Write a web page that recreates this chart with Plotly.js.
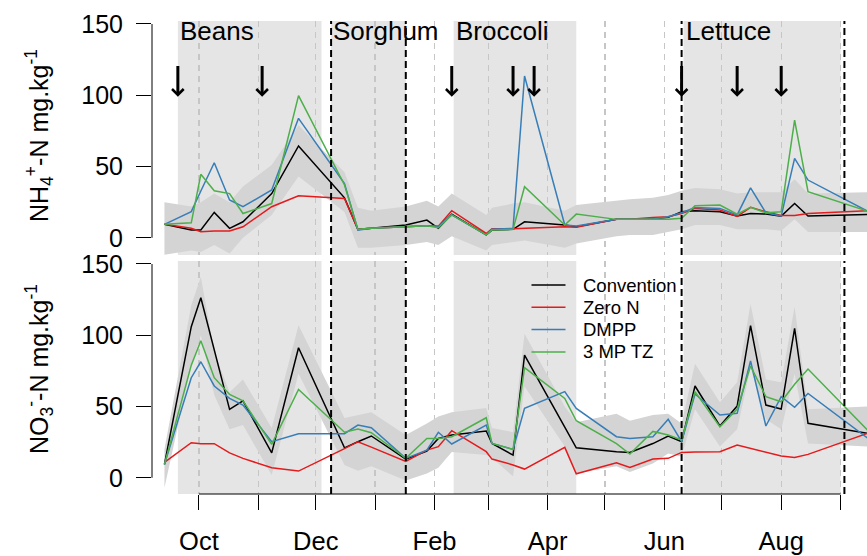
<!DOCTYPE html>
<html><head><meta charset="utf-8">
<script src="https://cdn.plot.ly/plotly-3.0.1.min.js"></script>
<style>html,body{margin:0;padding:0;background:#fff}#chart{width:867px;height:556px}</style>
</head><body><div id="chart"></div>
<script>
// Sampling dates
const dates = ['2014-09-13','2014-09-27','2014-10-02','2014-10-09','2014-10-17','2014-10-24','2014-11-08','2014-11-22',
  '2014-12-16','2014-12-23','2014-12-30','2015-01-17','2015-01-28','2015-02-03','2015-02-10','2015-02-28','2015-03-03',
  '2015-03-14','2015-03-20','2015-04-10','2015-04-16','2015-05-07','2015-05-14','2015-05-26','2015-06-03','2015-06-10',
  '2015-06-17','2015-06-30','2015-07-09','2015-07-16','2015-07-24','2015-08-01','2015-08-08','2015-08-15','2015-09-15'];

// NH4+-N (top panel)
const nh4Convention = [9.4,5.4,5.4,17.8,6.6,11.2,31,64.4,28,5.9,6.6,9,12.4,6.6,16.5,2,5.4,5.9,11.2,8.9,7.7,12.9,12.9,13.1,14.3,18.3,19,18.3,15.2,17,16.6,15.2,24,15.2,16.4];
const nh4ZeroN      = [9.4,6.6,4.2,4.7,4.7,7.7,21.8,29.5,27.6,5.9,6.6,8,8.4,8,19,3,6.3,6.3,6.6,7.7,7.3,12.9,12.9,14.3,14.7,17,20.6,19.4,15,21.3,18.3,15.7,15.7,17,19];
const nh4DMPP       = [9.4,18.3,32.8,52.6,26.5,21.8,33.5,83.8,38,5.4,6.6,8,8.4,8,16,2,5.9,6.6,113.5,8.9,8.2,12.9,12.9,13.1,14.7,17.5,21.3,20.6,16,35,17.5,15.2,55.7,40.5,18.7];
const nh4MPTZ       = [9.4,10.5,44.5,33,31,17,24,99.7,37,5.9,6.6,8,8.4,7,16,2,5.4,5.9,35.8,8.9,16.6,12.9,12.9,12.4,12.9,13.6,22.5,23,16.6,21.3,17.5,18.3,82.6,32.3,18.7];
const nh4Upper      = [25,22,25,31,25,36,51,79,46,21,19,22,26,22,31,16,21,24,25,19,23,26,27,28,30,33,35,34,31,32,32,32,41,31,32];
const nh4Lower      = [-12,-9,-10,-5,-11,0,16,43,18,-7,-7,-5,-3,-5,1,-9,-5,-3,-2,-7,-4,1,2,2,4,6,9,9,6,6,6,5,13,4,4];

// NO3--N (bottom panel)
const no3Convention = [9.4,106,126.3,90,48,54,17.5,91.2,21,25.3,29.3,13.1,18.7,27.6,30,32.8,24.1,15.9,86.1,35.5,21,18.3,17.8,24,29.3,25.3,64.4,36.3,50.3,106.7,51,48.2,104.9,38.2,31.2];
const no3ZeroN      = [10.8,24.6,23.9,23.9,17.5,13.6,7,4.7,20.4,25.3,21.5,11.5,19.4,21.8,33,18.3,13.1,9,6.1,21.3,2.8,10.5,7.3,13.1,13.6,17.8,18,18.3,23,20.6,18.3,15.2,14.3,16.4,31.2];
const no3DMPP       = [9.4,70.2,81.4,64.4,55.7,51,25.3,30.9,30.9,37,35.1,13.6,19.4,31.9,23.7,37,24.1,19.9,48.7,60.4,48.7,28.8,27.6,28.8,41,25.3,58.8,44,45.2,81.9,36.3,56.9,49.4,59.2,27.9];
const no3MPTZ       = [9.4,79,96.2,70.2,58.5,54,23.4,62,31.9,34.2,31.6,13.6,27.6,27.6,28.8,42.1,24.1,19.9,77.2,55.7,40,24,16.6,32.5,30,26.5,60.4,35.8,48.2,78.4,56.9,53.3,65.6,76.3,33.5];
const no3Upper      = [20,121,141,88,60,69,35,107,42,44,46,30,38,43,46,49,35,32,101,50,39,45,40,44,45,38,80,53,67,122,69,67,120,48,50];
const no3Lower      = [-7,79,100,58,34,37,2,73,9,5,8,-2,3,7,18,16,14,1,64,22,3,8,4,10,17,15,48,22,34,77,41,34,73,24,22];

// Treatments
const seriesNames = ['Convention','Zero N','DMPP','3 MP TZ'];
const seriesColors = ['#000000','#e41a1c','#377eb8','#4daf4a'];

// Crop periods, fertilisation dates, crop boundaries
const crops      = ['Beans','Sorghum','Broccoli','Lettuce'];
const cropStart  = ['2014-09-20','2014-12-09','2015-02-11','2015-06-11'];
const cropEnd    = ['2014-12-04','2015-01-17','2015-04-16','2015-09-01'];
const cropLabelX = ['2014-09-20','2014-12-09','2015-02-11','2015-06-11'];
const boundaries = ['2014-12-09','2015-01-17','2015-06-10','2015-09-03'];
const fertDates  = ['2014-09-20','2014-11-03','2015-02-10','2015-03-14','2015-03-25','2015-06-10','2015-07-09','2015-08-01'];

// Axis ticks
const labeledMonths   = ['2014-10-01','2014-12-01','2015-02-01','2015-04-01','2015-06-01','2015-08-01'];
const monthLabels     = ['Oct','Dec','Feb','Apr','Jun','Aug'];
const unlabeledMonths = ['2014-11-01','2015-01-01','2015-03-01','2015-05-01','2015-07-01','2015-09-01'];
const yTicks = [0,50,100,150];
const yTitles = ['NH<sub>4</sub><sup>+</sup>-N mg.kg<sup>-1</sup>', 'NO<sub>3</sub><sup>-</sup>-N mg.kg<sup>-1</sup>'];

const FONT = '"Liberation Sans", Arial, sans-serif';
const W = 867, H = 556, ML = 152, MR = 0, MT = 21, MB = 62;
const px2paperX = px => (px - ML) / (W - ML - MR);
const px2paperY = py => (H - MB - py) / (H - MT - MB);

const traces = [];
function addPanel(lower, upper, vals, yaxis) {
  traces.push({x: dates, y: lower, yaxis: yaxis, type: 'scatter', mode: 'lines', line: {width: 0, color: 'rgba(0,0,0,0)'}, showlegend: false, hoverinfo: 'skip'});
  traces.push({x: dates, y: upper, yaxis: yaxis, type: 'scatter', mode: 'lines', line: {width: 0, color: 'rgba(0,0,0,0)'}, fill: 'tonexty', fillcolor: '#d4d4d4', showlegend: false, hoverinfo: 'skip'});
  vals.forEach((v, i) => traces.push({x: dates, y: v, yaxis: yaxis, type: 'scatter', mode: 'lines', name: seriesNames[i],
    line: {color: seriesColors[i], width: 1.5}, showlegend: false}));
}
addPanel(nh4Lower, nh4Upper, [nh4Convention, nh4ZeroN, nh4DMPP, nh4MPTZ], 'y');
addPanel(no3Lower, no3Upper, [no3Convention, no3ZeroN, no3DMPP, no3MPTZ], 'y2');

const shapes = [];
['y', 'y2'].forEach(ya => {
  cropStart.forEach((s, i) => shapes.push({type: 'rect', xref: 'x', yref: ya + ' domain', x0: s, x1: cropEnd[i], y0: 0, y1: 1,
    fillcolor: '#e5e5e5', line: {width: 0}, layer: 'below'}));
  boundaries.forEach(d => shapes.push({type: 'line', xref: 'x', yref: ya + ' domain', x0: d, x1: d, y0: 0, y1: 1,
    line: {color: '#000', width: 2, dash: '7px,4px'}, layer: 'above'}));
  shapes.push({type: 'line', xref: 'paper', yref: ya, x0: 0, x1: 0, y0: yTicks[0], y1: yTicks[yTicks.length - 1], line: {color: '#000', width: 1}});
});
shapes.push({type: 'line', xref: 'x', yref: 'paper', x0: labeledMonths[0], x1: unlabeledMonths[unlabeledMonths.length - 1], y0: 0, y1: 0, line: {color: '#000', width: 1}});

const annotations = [];
crops.forEach((c, i) => annotations.push({text: c, x: cropLabelX[i], xref: 'x', xanchor: 'left', xshift: 0, y: 145, yref: 'y', yanchor: 'middle',
  showarrow: false, font: {family: FONT, size: 26, color: '#000'}}));
fertDates.forEach(d => annotations.push({text: '', x: d, y: 99, xref: 'x', yref: 'y', ax: d, ay: 121.5, axref: 'x', ayref: 'y',
  showarrow: true, arrowhead: 4, arrowsize: 0.75, arrowwidth: 3, arrowcolor: '#000', standoff: 0}));

// Y-axis titles
const titleCenters = [136, 369];
yTitles.forEach((t, i) => annotations.push({text: t, xref: 'paper', yref: 'paper', x: px2paperX(39), y: px2paperY(titleCenters[i]),
  xanchor: 'center', yanchor: 'middle', textangle: -90, showarrow: false, font: {family: FONT, size: 25, color: '#000'}}));

// Legend (drawn in the lower panel, top-middle)
const legLineX0 = 531.5, legLineX1 = 565.5, legTextX = 581, legRow0 = 285, legRowStep = 22.3;
seriesNames.forEach((n, i) => {
  const py = legRow0 + i * legRowStep;
  shapes.push({type: 'line', xref: 'paper', yref: 'paper', x0: px2paperX(legLineX0), x1: px2paperX(legLineX1),
    y0: px2paperY(py), y1: px2paperY(py), line: {color: seriesColors[i], width: 1.5}, layer: 'above'});
  annotations.push({text: n, xref: 'paper', yref: 'paper', x: px2paperX(legTextX), y: px2paperY(py), xanchor: 'left', yanchor: 'middle',
    showarrow: false, font: {family: FONT, size: 18.5, color: '#000'}});
});

const axisCommon = {ticks: 'outside', ticklen: 15, tickwidth: 1, tickcolor: '#000', showgrid: false, zeroline: false, showline: false,
  tickvals: yTicks, tickfont: {family: FONT, size: 25, color: '#000'}, ticklabelstandoff: 8, fixedrange: true};

const layout = {
  width: W, height: H,
  margin: {l: ML, r: MR, t: MT, b: MB},
  paper_bgcolor: '#fff', plot_bgcolor: '#fff',
  font: {family: FONT, color: '#000'},
  showlegend: false,
  xaxis: {type: 'date', range: ['2014-09-06 12:00', '2015-09-14 19:00'], anchor: 'y2', tickvals: labeledMonths, ticktext: monthLabels,
    ticks: 'outside', ticklen: 15, tickwidth: 1, tickcolor: '#000', showline: false, zeroline: false,
    showgrid: true, gridcolor: '#c6c6c6', griddash: '6px,5px', gridwidth: 1.3,
    minor: {tickvals: unlabeledMonths, ticks: 'outside', ticklen: 15, tickwidth: 1, tickcolor: '#000',
      showgrid: true, gridcolor: '#c6c6c6', griddash: '6px,5px', gridwidth: 1.3},
    tickfont: {family: FONT, size: 25.5, color: '#000'}, ticklabelstandoff: 9, fixedrange: true},
  yaxis: Object.assign({}, axisCommon, {domain: [0.50529, 1], range: [-12.1, 152.1], anchor: 'x'}),
  yaxis2: Object.assign({}, axisCommon, {domain: [0, 0.4926], range: [-11.4, 152.1], anchor: 'x'}),
  shapes: shapes,
  annotations: annotations
};

Plotly.newPlot('chart', traces, layout, {displayModeBar: false, staticPlot: true});
</script></body></html>
